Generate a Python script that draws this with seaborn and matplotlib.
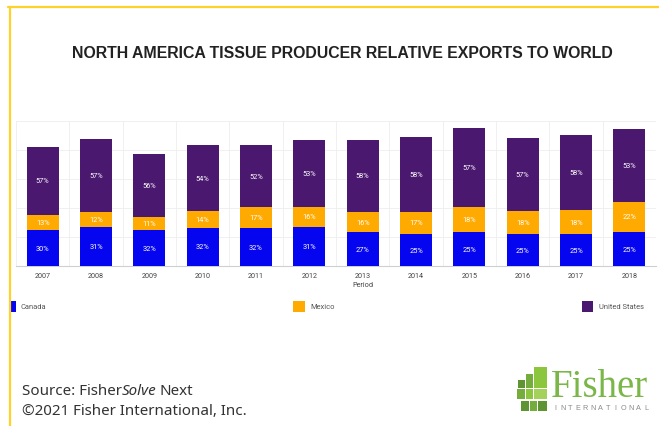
import matplotlib
matplotlib.use("Agg")
import matplotlib.pyplot as plt
from matplotlib.patches import Rectangle
from matplotlib.lines import Line2D
import seaborn as sns
import pandas as pd

# Export data: total volume per year and each country's share (%)
years = ["2007", "2008", "2009", "2010", "2011", "2012",
         "2013", "2014", "2015", "2016", "2017", "2018"]
export_volume = [206, 219, 196, 208, 207, 218, 216, 223, 238, 221, 224, 236]
canada_pct = [30, 31, 32, 32, 32, 31, 27, 25, 25, 25, 25, 25]
mexico_pct = [13, 12, 11, 14, 17, 16, 16, 17, 18, 18, 18, 22]
us_pct = [57, 57, 56, 54, 52, 53, 58, 58, 57, 57, 58, 53]
countries = ["Canada", "Mexico", "United States"]

colors = {"Canada": "#0505f0", "Mexico": "#ffaa00", "United States": "#4a186f"}

W, H = 659, 427


def fx(px):
    return px / W


def fy(py):
    return 1 - py / H


sns.set_theme(style="white")
plt.rcParams["font.family"] = ["Roboto", "DejaVu Sans"]

fig = plt.figure(figsize=(W / 100, H / 100), dpi=100)
fig.patch.set_facecolor("white")

ax = fig.add_axes([fx(16), fy(267.3), fx(656) - fx(16), fy(122) - fy(267.3)])

df = pd.DataFrame({
    "year": years,
    "vol": export_volume,
    "Canada": canada_pct,
    "Mexico": mexico_pct,
    "United States": us_pct,
})
df["can_h"] = df["vol"] * df["Canada"] / 100
df["mex_h"] = df["vol"] * df["Mexico"] / 100
df["us_h"] = df["vol"] * df["United States"] / 100
df["cum_can"] = df["can_h"]
df["cum_mex"] = df["can_h"] + df["mex_h"]
df["cum_us"] = df["cum_mex"] + df["us_h"]

# stacked look: draw cumulative heights from the top series down
for col, name in [("cum_us", "United States"), ("cum_mex", "Mexico"), ("cum_can", "Canada")]:
    sns.barplot(data=df, x="year", y=col, color=colors[name], saturation=1,
                width=0.6, ax=ax, zorder=3, linewidth=0)

# segment labels
for i, row in df.iterrows():
    segs = [(0, row["cum_can"], row["Canada"]),
            (row["cum_can"], row["cum_mex"], row["Mexico"]),
            (row["cum_mex"], row["cum_us"], row["United States"])]
    for lo, hi, pct in segs:
        ax.text(i, (lo + hi) / 2, f"{pct}%", ha="center", va="center",
                color="white", fontsize=5.3, zorder=5)

ax.set_xlim(-0.5, len(years) - 0.5)
ax.set_ylim(0, 250)
ax.set_yticks([])
for y in range(50, 251, 50):
    ax.axhline(y, color="#eeeeee", lw=0.6, zorder=0)
for xb in [i - 0.5 for i in range(len(years) + 1)]:
    ax.axvline(xb, color="#eeeeee", lw=0.6, zorder=0)
for s in ["top", "right", "left"]:
    ax.spines[s].set_visible(False)
ax.spines["bottom"].set_color("#cfcfcf")
ax.spines["bottom"].set_linewidth(0.8)
ax.tick_params(axis="x", length=0, pad=4, labelsize=5.2, labelcolor="#444444")
ax.set_xlabel("")
ax.set_ylabel("")

fig.text(fx(363), fy(285.7), "Period", ha="center", va="center",
         fontsize=5.2, color="#444444")

# title
fig.text(fx(342), fy(53), "NORTH AMERICA TISSUE PRODUCER RELATIVE EXPORTS TO WORLD",
         ha="center", va="center", fontsize=11.4, fontweight="bold",
         color="#222222", family=["Liberation Sans", "DejaVu Sans"])

# legend
legend_items = [("Canada", 10.5, 15.7, 20.7),
                ("Mexico", 292.7, 304.7, 310.0),
                ("United States", 581.7, 593.3, 598.7)]
for name, x0, x1, tx in legend_items:
    fig.patches.append(Rectangle((fx(x0), fy(313.3)), fx(x1) - fx(x0), fy(301.7) - fy(313.3),
                                 transform=fig.transFigure, facecolor=colors[name],
                                 edgecolor="none"))
    fig.text(fx(tx), fy(307.6), name, ha="left", va="center", fontsize=5.4, color="#555555")

# frame
fig.lines.append(Line2D([fx(8), fx(659)], [fy(8), fy(8)], transform=fig.transFigure,
                        color="#ffd22a", lw=1.6))
fig.lines.append(Line2D([fx(9.5), fx(9.5)], [fy(8), fy(427)], transform=fig.transFigure,
                        color="#ffd22a", lw=1.6))

# source note
foot = dict(fontsize=10.9, color="#333333", va="center", family=["Noto Sans", "DejaVu Sans"])
renderer = fig.canvas.get_renderer()
t1 = fig.text(fx(22), fy(392), "Source: Fisher", ha="left", **foot)
bb = t1.get_window_extent(renderer)
t2 = fig.text(bb.x1 / W, fy(392), "Solve", ha="left", style="italic", **foot)
bb2 = t2.get_window_extent(renderer)
fig.text(bb2.x1 / W + 3 / W, fy(392), "Next", ha="left", **foot)
fig.text(fx(22), fy(412), "\u00a92021 Fisher International, Inc.", ha="left", **foot)

# company mark
greens = ["#8cc63f", "#74ad3c", "#5e9432", "#a3d15a"]
blocks = [
    (534, 368, 13, 21, greens[0]),
    (526, 375, 7, 14, greens[1]),
    (518, 381, 7, 8, greens[2]),
    (517, 390, 8, 10, greens[1]),
    (526, 390, 7, 10, greens[0]),
    (534, 390, 13, 10, greens[3]),
    (521, 402, 8, 10, greens[2]),
    (530, 402, 7, 10, greens[1]),
    (538, 402, 9, 10, greens[2]),
]
for x0, y0, w, h, c in blocks:
    fig.patches.append(Rectangle((fx(x0), fy(y0 + h)), w / W, h / H,
                                 transform=fig.transFigure, facecolor=c, edgecolor="none"))
fig.text(fx(551), fy(397), "Fisher", ha="left", va="baseline", fontsize=28,
         color="#7ab648", family=["Liberation Serif", "DejaVu Serif"])
word = "INTERNATIONAL"
for k, ch in enumerate(word):
    fig.text(fx(555 + k * 7.6), fy(408.5), ch, ha="center", va="center",
             fontsize=5.2, color="#8a8a8a", family=["Liberation Sans", "DejaVu Sans"])

fig.savefig("out.png", dpi=100)
